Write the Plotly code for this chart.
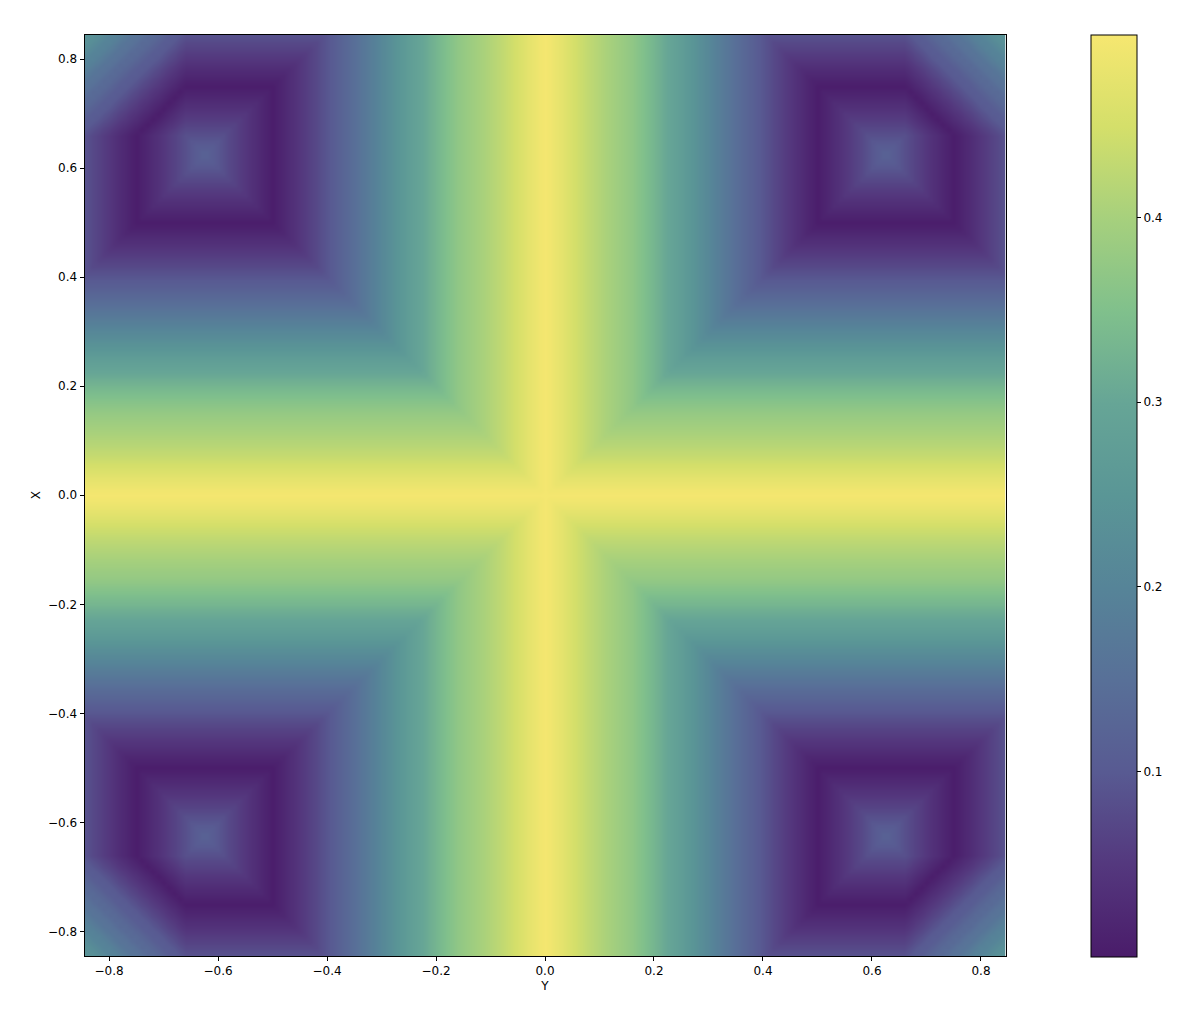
import numpy as np
import plotly.graph_objects as go

# Values. The surface is rebuilt from these tables:
# each cell looks up a read profile by its distance to the dark rings (not a point-by-point read).
tick_values = [-0.8, -0.6, -0.4, -0.2, 0.0, 0.2, 0.4, 0.6, 0.8]
cbar_ticks = [0.1, 0.2, 0.3, 0.4]
ring_inner = 50      # |coordinate| of the inner side of the dark rings, in hundredths
ring_outer = 75      # |coordinate| of the outer side of the dark rings, in hundredths
chamfer_sum = 141    # |x|+|y| of the cut-off outer ring corner, in hundredths
chamfer_low = 66     # smaller coordinate where the cut-off corner starts, in hundredths
corner_knee = 10     # beyond this distance the outer corner brightens more slowly
corner_rate = 0.72   # that slower rate, read by eye
axis_limit = 85      # grid half-width, in hundredths

# colour value read at distance 0.00, 0.01, ... 0.50 from the nearest ring
profile = [
    0.004, 0.012, 0.021, 0.030, 0.039, 0.048, 0.057, 0.066, 0.075, 0.085,
    0.095, 0.105, 0.115, 0.126, 0.137, 0.148, 0.160, 0.172, 0.184, 0.197,
    0.210, 0.222, 0.235, 0.248, 0.261, 0.274, 0.285, 0.296, 0.307, 0.318,
    0.330, 0.340, 0.350, 0.360, 0.370, 0.378, 0.385, 0.392, 0.399, 0.406,
    0.413, 0.420, 0.428, 0.436, 0.445, 0.454, 0.464, 0.474, 0.483, 0.491,
    0.497,
]
colour_stops = [
    (0.0, "rgb(74,28,106)"), (0.1, "rgb(84,56,126)"), (0.2, "rgb(88,90,146)"),
    (0.3, "rgb(88,112,152)"), (0.4, "rgb(86,132,152)"), (0.5, "rgb(90,150,150)"),
    (0.6, "rgb(102,165,150)"), (0.7, "rgb(128,192,140)"), (0.8, "rgb(166,208,125)"),
    (0.9, "rgb(212,223,106)"), (1.0, "rgb(246,231,112)"),
]

grid = np.arange(-axis_limit, axis_limit + 1)
A, B = np.meshgrid(np.abs(grid), np.abs(grid))
low, high = np.minimum(A, B), np.maximum(A, B)
summed = low + high
dist = np.empty(A.shape, dtype=int)
zone_in = low < ring_inner
dist[zone_in] = ring_inner - low[zone_in]
far = zone_in & (high > ring_outer)
dist[far] = np.maximum(ring_inner - low[far], high[far] - ring_outer)
zone_sq = (low >= ring_inner) & (high <= ring_outer)
dist[zone_sq] = np.minimum(low[zone_sq] - ring_inner, ring_outer - high[zone_sq])
zone_out = (low >= ring_inner) & (high > ring_outer)
dist[zone_out] = high[zone_out] - ring_outer
inside_cut = (summed <= chamfer_sum) & zone_sq
dist[inside_cut] = np.minimum(dist[inside_cut], chamfer_sum - summed[inside_cut])
outside_cut = (summed > chamfer_sum) & (low >= chamfer_low)
beyond = summed[outside_cut] - chamfer_sum
dist[outside_cut] = np.rint(np.where(beyond <= corner_knee, beyond,
                                     corner_knee + (beyond - corner_knee) * corner_rate)).astype(int)
z = np.array(profile)[np.clip(dist, 0, 50)]
coords = grid / 100.0

font = dict(family="DejaVu Sans", size=12, color="black")
fig = go.Figure(go.Heatmap(
    x=coords, y=coords, z=z, zsmooth="best", zmin=0.0, zmax=0.499,
    colorscale=colour_stops,
    colorbar=dict(
        x=1091 / 1195, xanchor="left", xref="paper", xpad=0,
        y=1 - 956.5 / 1024, yanchor="bottom", yref="paper", ypad=0,
        len=922 / 1024, lenmode="fraction", thickness=46, thicknessmode="pixels",
        outlinecolor="black", outlinewidth=1,
        tickvals=cbar_ticks, ticktext=[f"{t:.1f}" for t in cbar_ticks],
        ticks="outside", ticklen=4, tickcolor="black", tickwidth=1,
        tickfont=font,
    ),
))
axis = dict(
    range=[-0.845, 0.845], tickvals=tick_values,
    ticktext=[f"{t:.1f}".replace("-", "\u2212") for t in tick_values],
    ticks="outside", ticklen=4, tickcolor="black", tickwidth=1,
    showline=True, linecolor="black", linewidth=1, mirror=True,
    showgrid=False, zeroline=False,
    tickfont=font,
)
fig.update_layout(
    width=1195, height=1024, autosize=False, paper_bgcolor="white", plot_bgcolor="white",
    margin=dict(l=0, r=0, t=0, b=0),
    xaxis=dict(axis, domain=[84.5 / 1195, 1005.5 / 1195],
               title=dict(text="Y", font=font, standoff=4)),
    yaxis=dict(axis, domain=[1 - 956 / 1024, 1 - 34.5 / 1024],
               title=dict(text="X", font=font, standoff=4)),
)
fig.write_html("out.html", post_script="document.body.style.margin='0';",
               config={"displayModeBar": False})
